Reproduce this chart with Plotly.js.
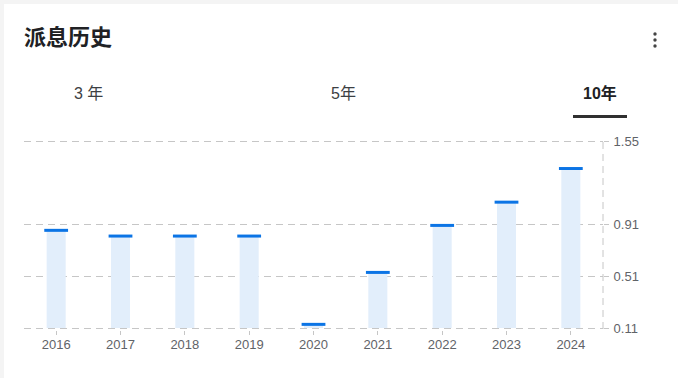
<!DOCTYPE html>
<html>
<head>
<meta charset="utf-8">
<script src="https://cdn.plot.ly/plotly-3.0.1.min.js"></script>
<style>
  html, body { margin: 0; padding: 0; background: #f4f4f4; }
  #card { position: absolute; left: 4px; top: 4px; width: 674px; height: 374px; background: #ffffff; }
  #chart { position: absolute; left: 0; top: 0; width: 678px; height: 378px; }
</style>
</head>
<body>
<div id="card"></div>
<div id="chart"></div>
<script>
// Annual dividend per share, last ten years
const years = ['2016', '2017', '2018', '2019', '2020', '2021', '2022', '2023', '2024'];
const dividends = [0.862, 0.818, 0.818, 0.818, 0.138, 0.538, 0.900, 1.079, 1.338];
const yTickVals = [0.11, 0.51, 0.91, 1.55];
const yTickText = ['0.11', '0.51', '0.91', '1.55'];
const tabs = ['3 年', '5年', '10年'];

const W = 678, H = 378;
// plot frame is two pixels taller than the outer gridlines so they stay visible
const L = 24, R = 603, T = 139, B = 330;
const yPad = (((B - T) / (187 / 1.44)) - 1.44) / 2;
const px = x => (x - L) / (R - L);
const py = y => (B - y) / (B - T);

const font = 'Arial, "Liberation Sans", "Noto Sans CJK SC", sans-serif';
const capColor = '#0b74e5';
const gridColor = '#c6c6c6';

// bars rise from the lowest gridline
const bars = {
  type: 'bar',
  x: years,
  y: dividends.map(v => v - 0.11),
  base: 0.11,
  width: 0.296,
  marker: { color: '#e2eefb', line: { width: 0 } },
  hoverinfo: 'skip'
};

const caps = {
  type: 'scatter',
  mode: 'markers',
  x: years,
  y: dividends,
  marker: { symbol: 'line-ew', size: 17, line: { width: 3, color: capColor } },
  hoverinfo: 'skip',
  cliponaxis: false
};

const tabX = [88, 343, 600];
const annotations = [
  { text: '<b>派息历史</b>', x: px(22), y: py(38), xanchor: 'left', yanchor: 'middle',
    font: { size: 22, color: '#202124', family: font } }
].concat(tabs.map((t, i) => ({
  text: i === 2 ? '<b>' + t + '</b>' : t,
  x: px(tabX[i]), y: py(93), xanchor: 'center', yanchor: 'middle',
  font: { size: 16, color: i === 2 ? '#202124' : '#3c4043', family: font }
}))).map(a => Object.assign({ xref: 'paper', yref: 'paper', showarrow: false }, a));

const shapes = [
  // dashed right axis line
  { type: 'line', xref: 'paper', yref: 'paper', x0: 1, x1: 1, y0: py(329), y1: py(140),
    line: { color: gridColor, width: 1, dash: '7px,5px' } },
  // active tab underline
  { type: 'rect', xref: 'paper', yref: 'paper', x0: px(573), x1: px(627), y0: py(118), y1: py(115),
    fillcolor: '#303030', line: { width: 0 } }
];
// overflow menu dots
[34, 40, 46].forEach(cy => shapes.push({
  type: 'circle', xref: 'paper', yref: 'paper',
  x0: px(653.3), x1: px(656.7), y0: py(cy + 1.7), y1: py(cy - 1.7),
  fillcolor: '#444444', line: { width: 0 }
}));

const layout = {
  width: W, height: H,
  margin: { l: L, r: W - R, t: T, b: H - B, pad: 0 },
  paper_bgcolor: 'rgba(0,0,0,0)',
  plot_bgcolor: 'rgba(0,0,0,0)',
  showlegend: false,
  barmode: 'overlay',
  font: { family: font, color: '#5f6368' },
  xaxis: {
    type: 'category',
    range: [-0.5, 8.5],
    showgrid: false, zeroline: false, showline: false,
    ticks: 'outside', ticklen: 4, tickcolor: gridColor, tickwidth: 1,
    ticklabelstandoff: -2,
    tickfont: { size: 13, color: '#5f6368', family: font },
    fixedrange: true
  },
  yaxis: {
    side: 'right',
    range: [0.11 - yPad, 1.55 + yPad],
    tickvals: yTickVals, ticktext: yTickText,
    showgrid: true, gridcolor: gridColor, griddash: '7px,5px', gridwidth: 1,
    zeroline: false, showline: false,
    ticks: 'outside', ticklen: 5, tickcolor: gridColor, tickwidth: 1,
    ticklabelstandoff: 2,
    tickfont: { size: 13, color: '#5f6368', family: font },
    fixedrange: true
  },
  annotations: annotations,
  shapes: shapes
};

Plotly.newPlot('chart', [bars, caps], layout, { displayModeBar: false, staticPlot: true });
</script>
</body>
</html>
